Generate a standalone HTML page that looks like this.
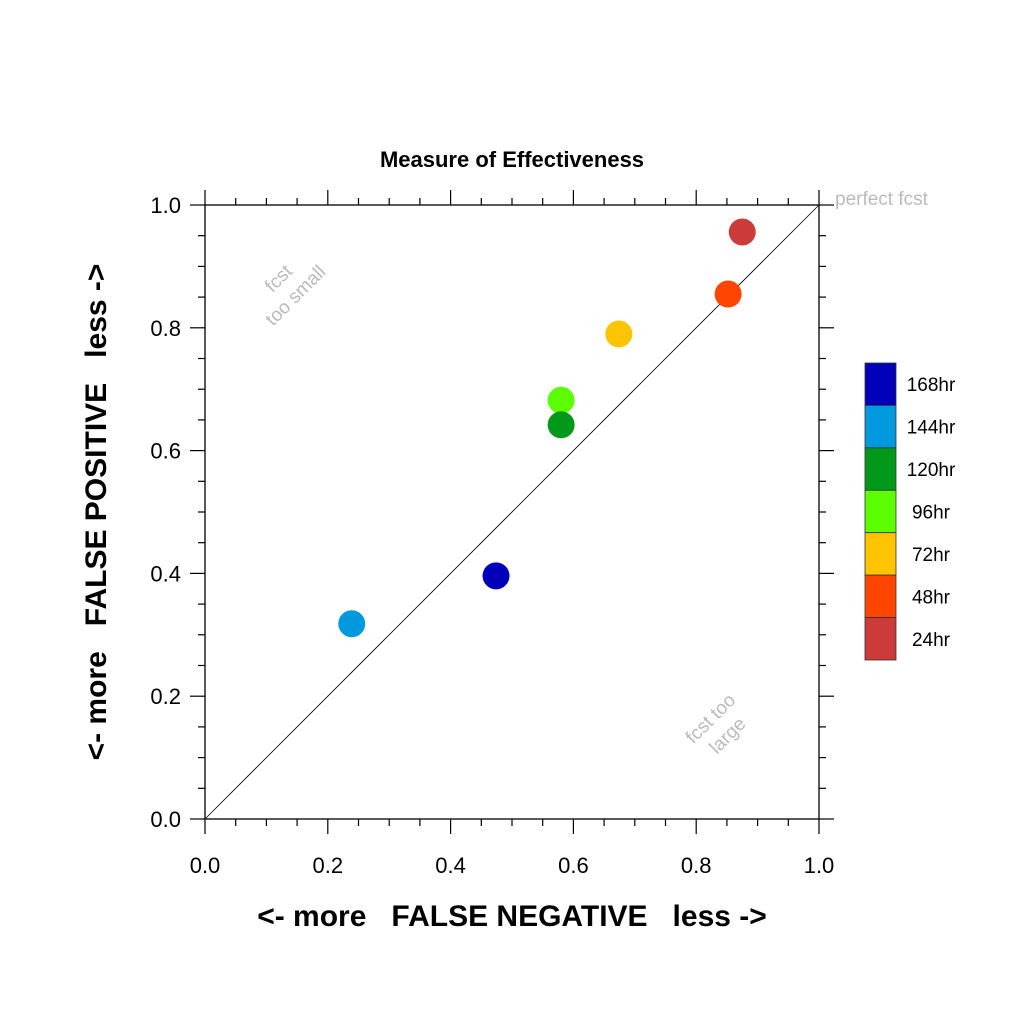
<!DOCTYPE html>
<html><head><meta charset="utf-8"><style>
html,body{margin:0;padding:0;background:#fff}
svg{display:block;font-family:"Liberation Sans",Arial,sans-serif}
</style></head><body>
<svg id="chart" width="1024" height="1024" viewBox="0 0 1024 1024" xmlns="http://www.w3.org/2000/svg">
<rect width="1024" height="1024" fill="#fff"/>
<text x="512" y="167" text-anchor="middle" font-size="22" font-weight="bold">Measure of Effectiveness</text>
<g id="axes"></g>
<line x1="205" y1="819" x2="819" y2="205" stroke="#000" stroke-width="0.8"/>
<g id="marks"></g>
<text x="835" y="205" font-size="19" fill="#bbb">perfect fcst</text>
<g transform="translate(290,290) rotate(-45)" fill="#bbb" font-size="19" text-anchor="middle">
<text x="0" y="-10">fcst</text><text x="0" y="14">too small</text></g>
<g transform="translate(722,730) rotate(-45)" fill="#bbb" font-size="19" text-anchor="middle">
<text x="0" y="-10">fcst too</text><text x="0" y="14">large</text></g>
<text x="512" y="926" text-anchor="middle" font-size="30" font-weight="bold" xml:space="preserve">&lt;- more   FALSE NEGATIVE   less -&gt;</text>
<text transform="translate(106,512) rotate(-90)" text-anchor="middle" font-size="30" font-weight="bold" xml:space="preserve">&lt;- more   FALSE POSITIVE   less -&gt;</text>
<g id="legend"></g>
</svg>
<script>
const labels = ["24hr","48hr","72hr","96hr","120hr","144hr","168hr"];
const colors = ["#cc3a3a","#ff4500","#ffc400","#5cff00","#00991a","#0099dd","#0000bb"];
const xValues = [0.875,0.852,0.674,0.580,0.580,0.239,0.474];
const yValues = [0.956,0.855,0.790,0.682,0.642,0.318,0.396];
const tickValues = [0,0.2,0.4,0.6,0.8,1.0];
const tickLabels = ["0.0","0.2","0.4","0.6","0.8","1.0"];

const NS="http://www.w3.org/2000/svg";
const L=205,R=819,T=205,B=819;
const sx=v=>L+v*(R-L);
const sy=v=>B-v*(B-T);
function mk(tag,attrs,parent){const e=document.createElementNS(NS,tag);for(const k in attrs)e.setAttribute(k,attrs[k]);parent.appendChild(e);return e;}
const axes=document.getElementById('axes');
const frame=mk('rect',{x:L,y:T,width:R-L,height:B-T,fill:'none',stroke:'#000','stroke-width':1.3},axes);


for(let i=0;i<=20;i++){
  const v=i/20, major=(i%4===0), len=major?15:7;
  const x=sx(v), y=sy(v);
  const segs=[[x,B,x,B+len],[x,T,x,T-len],[L,y,L-len,y],[R,y,R+len,y]];
  segs.forEach(s=>{const ln=mk('line',{x1:s[0],y1:s[1],x2:s[2],y2:s[3],stroke:'#000','stroke-width':1.2},axes);
    
    });
}
tickValues.forEach((v,i)=>{
  const tx=mk('text',{x:sx(v),y:B+54,'text-anchor':'middle','font-size':22},axes);
  tx.textContent=tickLabels[i];
  
  
  const ty=mk('text',{x:L-24,y:sy(v)+8,'text-anchor':'end','font-size':22},axes);
  ty.textContent=tickLabels[i];
  
  
});
const marks=document.getElementById('marks');
labels.forEach((lab,i)=>{
  const c=mk('circle',{cx:sx(xValues[i]),cy:sy(yValues[i]),r:13.5,fill:colors[i]},marks);
  
  
});
const leg=document.getElementById('legend');
const order=labels.slice().reverse(), ocol=colors.slice().reverse();
const h=(660-363)/order.length;
order.forEach((lab,i)=>{
  const r=mk('rect',{x:865,y:363+i*h,width:31,height:h,fill:ocol[i],stroke:'#333','stroke-width':0.8},leg);
  
  
  const t=mk('text',{x:931,y:363+i*h+h/2+7,'text-anchor':'middle','font-size':19},leg);
  t.textContent=lab;
  
  
});
</script>
</body></html>
